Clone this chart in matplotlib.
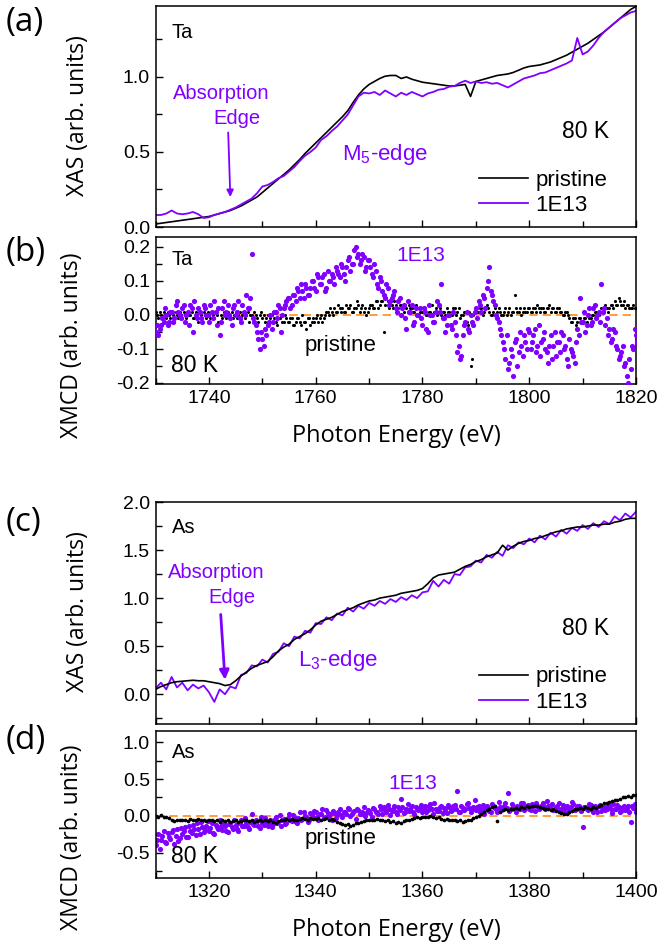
import numpy as np
import matplotlib
matplotlib.use("Agg")
import matplotlib.pyplot as plt
from matplotlib.ticker import MultipleLocator
from matplotlib.lines import Line2D

plt.rcParams['font.family'] = ['Liberation Sans', 'DejaVu Sans']
plt.rcParams['mathtext.fontset'] = 'custom'
plt.rcParams['mathtext.rm'] = 'Liberation Sans'
plt.rcParams['mathtext.default'] = 'regular'

# === Daten ===
# Ta M5-Kante, XAS, 1 eV Schritte 1730..1820
e_ta = np.arange(1730, 1821, 1.0)
xas_ta_pristine = [
    0.02, 0.025, 0.03, 0.035, 0.04, 0.045, 0.05, 0.055, 0.06, 0.065,
    0.07, 0.08, 0.09, 0.10, 0.11, 0.125, 0.14, 0.16, 0.18, 0.20,
    0.23, 0.26, 0.29, 0.32, 0.35, 0.38, 0.415, 0.45, 0.49, 0.525,
    0.56, 0.595, 0.63, 0.665, 0.70, 0.735, 0.775, 0.83, 0.88, 0.92,
    0.95, 0.97, 0.99, 1.005, 1.01, 1.01, 0.99, 1.0, 0.985, 0.975,
    0.965, 0.96, 0.955, 0.95, 0.945, 0.94, 0.94, 0.945, 0.95, 0.87,
    0.97, 0.98, 0.99, 1.0, 1.01, 1.015, 1.02, 1.03, 1.045, 1.06,
    1.07, 1.075, 1.08, 1.09, 1.10, 1.115, 1.13, 1.145, 1.165, 1.185,
    1.205, 1.225, 1.25, 1.275, 1.30, 1.33, 1.36, 1.39, 1.42, 1.45,
    1.47]
xas_ta_1e13 = [
    0.08, 0.08, 0.09, 0.11, 0.09, 0.085, 0.09, 0.10, 0.085, 0.06,
    0.065, 0.08, 0.09, 0.10, 0.115, 0.13, 0.15, 0.17, 0.19, 0.225,
    0.27, 0.28, 0.30, 0.325, 0.34, 0.37, 0.40, 0.44, 0.475, 0.50,
    0.53, 0.58, 0.605, 0.64, 0.67, 0.71, 0.75, 0.81, 0.87, 0.895,
    0.89, 0.90, 0.88, 0.91, 0.89, 0.87, 0.895, 0.88, 0.90, 0.885,
    0.87, 0.89, 0.90, 0.915, 0.92, 0.935, 0.94, 0.96, 0.975, 0.96,
    0.97, 0.96, 0.965, 0.955, 0.96, 0.945, 0.93, 0.95, 0.97, 0.99,
    1.00, 1.01, 1.025, 1.03, 1.045, 1.06, 1.075, 1.09, 1.11, 1.26,
    1.15, 1.17, 1.21, 1.26, 1.30, 1.33, 1.36, 1.39, 1.41, 1.43,
    1.44]

# Ta XMCD, zwei verschachtelte Punktreihen im 0.5 eV Raster
e_ta_f = np.arange(1730, 1820.25, 0.5)
e_ta_f2 = e_ta_f + 0.25
xmcd_ta_pristine = [
    0.01, -0.01, 0.00, 0.01, -0.01, 0.00, 0.01, -0.02, 0.00, 0.01,
    -0.01, 0.00, 0.01, 0.00, -0.01, 0.01, -0.02, 0.00, 0.01, -0.01,
    0.00, 0.01, -0.01, 0.00, 0.02, -0.01, 0.00, 0.01, 0.00, -0.01,
    0.01, 0.00, -0.01, 0.01, 0.00, -0.02, 0.00, 0.01, -0.01, 0.00,
    -0.01, -0.02, 0.00, -0.01, 0.01, -0.02, -0.01, 0.00, -0.02, -0.01,
    -0.02, -0.01, -0.03, -0.01, -0.02, 0.00, -0.02, -0.01, -0.03, -0.01,
    -0.01, -0.02, 0.00, -0.01, 0.01, 0.00, 0.01, 0.02, 0.01, 0.02,
    0.02, 0.01, 0.02, 0.03, 0.01, 0.02, 0.03, 0.02, 0.01, 0.00,
    0.02, 0.03, 0.02, 0.04, 0.03, 0.04, 0.03, 0.04, 0.03, 0.02,
    0.03, 0.02, 0.03, 0.01, 0.02, 0.03, 0.02, 0.01, 0.02, 0.01,
    0.01, 0.02, 0.00, 0.01, -0.02, 0.02, 0.01, 0.00, 0.01, 0.02,
    0.01, 0.00, 0.02, 0.01, -0.01, 0.00, 0.01, -0.03, -0.15, 0.00,
    0.02, 0.01, 0.02, 0.01, 0.03, 0.01, 0.00, 0.02, 0.01, 0.01,
    0.00, 0.02, 0.01, 0.00, 0.01, 0.02, 0.01, 0.00, 0.02, 0.01,
    0.02, 0.01, 0.02, 0.03, 0.01, 0.02, 0.01, 0.02, 0.01, 0.02,
    0.01, 0.02, 0.01, 0.00, 0.01, -0.01, -0.02, -0.01, -0.02, -0.01,
    -0.02, -0.01, 0.00, -0.01, 0.00, 0.01, 0.00, 0.02, 0.01, 0.02,
    0.02, 0.03, 0.04, 0.03, 0.04, 0.03, 0.02, 0.03, 0.02, 0.03,
    0.02]
xmcd_ta_pristine_2 = [
    0.00, 0.01, -0.01, 0.00, 0.01, -0.01, 0.00, 0.01, -0.01, 0.00,
    0.01, -0.01, 0.00, 0.01, -0.01, 0.00, 0.01, -0.01, 0.00, 0.01,
    -0.01, 0.00, 0.01, -0.02, 0.00, 0.01, -0.01, 0.00, 0.01, 0.00,
    -0.01, 0.01, 0.00, -0.01, 0.01, 0.00, -0.01, 0.00, -0.02, 0.01,
    0.00, -0.01, -0.02, 0.00, -0.01, -0.03, -0.01, -0.02, 0.00, -0.02,
    -0.01, -0.03, -0.02, -0.01, -0.03, -0.02, -0.04, -0.01, -0.02, -0.02,
    0.00, -0.01, -0.02, 0.00, 0.01, 0.02, 0.00, 0.01, 0.03, 0.01,
    0.01, 0.03, 0.02, 0.01, 0.02, 0.04, 0.01, 0.03, 0.02, 0.01,
    0.03, 0.02, 0.04, 0.02, 0.04, -0.05, 0.05, 0.02, 0.03, 0.04,
    0.02, 0.03, 0.02, 0.03, 0.01, 0.02, 0.01, 0.03, 0.00, 0.02,
    0.02, 0.00, 0.01, 0.03, 0.01, 0.00, 0.02, 0.01, 0.00, 0.01,
    0.00, 0.02, 0.00, 0.02, 0.00, 0.01, -0.02, 0.01, -0.13, 0.01,
    0.01, 0.02, 0.00, 0.02, 0.02, 0.00, 0.01, 0.00, 0.02, 0.00,
    0.01, 0.00, 0.02, 0.01, 0.06, 0.01, 0.02, 0.01, 0.01, 0.02,
    0.01, 0.02, 0.01, 0.02, 0.02, 0.01, 0.02, 0.03, 0.02, 0.01,
    0.02, 0.01, 0.00, 0.01, 0.00, -0.02, -0.01, -0.03, -0.01, -0.02,
    -0.01, -0.02, -0.01, 0.00, 0.01, -0.01, 0.01, 0.01, 0.03, 0.01,
    0.03, 0.02, 0.03, 0.05, 0.03, 0.04, 0.03, 0.02, 0.02, 0.02,
    0.02]
xmcd_ta_1e13 = [
    -0.05, -0.06, -0.03, -0.02, 0.00, -0.02, 0.01, -0.01, 0.04, 0.00,
    0.02, -0.02, 0.01, 0.03, -0.05, 0.00, 0.02, -0.01, 0.03, 0.00,
    -0.02, 0.01, 0.04, -0.03, -0.06, 0.02, 0.00, 0.03, -0.01, 0.02,
    0.00, 0.04, -0.02, 0.01, 0.06, 0.02, 0.18, -0.02, -0.05, -0.10,
    -0.07, -0.04, -0.03, 0.00, -0.02, 0.01, 0.03, -0.05, 0.02, 0.04,
    0.05, 0.03, 0.06, 0.08, 0.05, 0.07, 0.09, 0.06, 0.08, 0.10,
    0.07, 0.11, 0.09, 0.12, 0.08, 0.10, 0.12, 0.09, 0.13, 0.11,
    0.14, 0.10, 0.16, 0.13, 0.15, 0.20, 0.18, 0.16, 0.17, 0.14,
    0.16, 0.12, 0.15, 0.09, 0.11, 0.07, 0.05, 0.08, 0.04, 0.06,
    0.02, 0.04, 0.00, 0.03, -0.04, 0.01, 0.03, -0.02, 0.00, 0.02,
    -0.03, 0.01, -0.05, 0.00, -0.02, 0.01, 0.03, 0.09, -0.01, -0.03,
    0.00, -0.04, -0.02, -0.11, -0.13, -0.06, -0.02, -0.04, 0.00, -0.03,
    0.02, 0.04, 0.01, 0.05, 0.08, 0.14, 0.06, 0.03, -0.01, -0.04,
    -0.08, -0.13, -0.16, -0.10, -0.18, -0.07, -0.11, -0.09, -0.06, -0.10,
    -0.05, -0.08, -0.04, -0.09, -0.12, -0.07, -0.10, -0.14, -0.06, -0.09,
    -0.12, -0.08, -0.05, -0.10, -0.13, -0.07, -0.11, -0.14, -0.04, 0.05,
    -0.02, -0.05, 0.00, -0.03, 0.02, -0.01, 0.01, 0.09, 0.02, -0.01,
    -0.04, -0.07, -0.05, -0.10, -0.12, -0.09, -0.14, -0.20, -0.16, -0.10,
    -0.06]
xmcd_ta_1e13_2 = [
    -0.03, -0.04, -0.01, 0.02, -0.03, 0.01, -0.02, 0.03, 0.01, -0.01,
    0.03, 0.00, -0.03, 0.02, 0.04, -0.01, 0.01, -0.02, 0.02, 0.00,
    0.03, -0.01, 0.01, 0.02, -0.02, 0.04, 0.01, 0.00, -0.03, 0.03,
    0.01, -0.01, 0.03, 0.00, 0.02, 0.05, -0.01, -0.03, -0.07, -0.05,
    -0.09, -0.06, -0.02, -0.04, 0.01, -0.01, 0.02, 0.00, 0.03, 0.05,
    0.02, 0.06, 0.04, 0.07, 0.09, 0.05, 0.08, 0.06, 0.10, 0.08,
    0.12, 0.09, 0.11, 0.07, 0.13, 0.10, 0.11, 0.14, 0.12, 0.15,
    0.12, 0.14, 0.17, 0.15, 0.19, 0.17, 0.15, 0.18, 0.13, 0.16,
    0.14, 0.11, 0.13, 0.08, 0.10, 0.06, 0.09, 0.03, 0.05, 0.07,
    0.01, 0.05, 0.02, -0.01, 0.04, 0.01, -0.03, 0.02, 0.00, -0.01,
    0.02, -0.04, 0.03, 0.00, -0.02, 0.04, 0.01, -0.01, -0.05, 0.00,
    -0.03, 0.01, -0.06, -0.09, -0.12, -0.03, 0.01, -0.05, -0.02, 0.01,
    -0.01, 0.03, 0.06, 0.02, 0.10, 0.07, 0.04, 0.00, -0.02, -0.06,
    -0.10, -0.06, -0.14, -0.12, -0.08, -0.15, -0.05, -0.12, -0.08, -0.04,
    -0.10, -0.06, -0.11, -0.03, -0.08, -0.05, -0.11, -0.09, -0.13, -0.05,
    -0.08, -0.11, -0.06, -0.09, -0.15, -0.10, -0.12, -0.08, -0.06, -0.02,
    0.01, -0.03, 0.02, -0.02, 0.03, 0.00, -0.02, 0.01, -0.03, -0.06,
    -0.08, -0.04, -0.09, -0.13, -0.11, -0.15, -0.18, -0.13, -0.09, -0.04,
    -0.08]

# As L3-Kante, XAS, 1 eV Schritte 1310..1400
e_as = np.arange(1310, 1401, 1.0)
xas_as_pristine = [
    0.05, 0.08, 0.10, 0.12, 0.13, 0.135, 0.14, 0.145, 0.14, 0.14,
    0.13, 0.12, 0.11, 0.09, 0.10, 0.14, 0.19, 0.23, 0.27, 0.30,
    0.32, 0.34, 0.39, 0.45, 0.49, 0.52, 0.57, 0.60, 0.63, 0.67,
    0.72, 0.76, 0.78, 0.80, 0.83, 0.86, 0.88, 0.90, 0.93, 0.95,
    0.97, 0.98, 1.00, 1.01, 1.02, 1.03, 1.05, 1.06, 1.07, 1.08,
    1.10, 1.15, 1.21, 1.24, 1.25, 1.26, 1.27, 1.30, 1.33, 1.35,
    1.38, 1.40, 1.43, 1.45, 1.47, 1.55, 1.50, 1.54, 1.57, 1.59,
    1.60, 1.62, 1.63, 1.65, 1.67, 1.69, 1.70, 1.72, 1.73, 1.74,
    1.74, 1.75, 1.76, 1.76, 1.77, 1.77, 1.79, 1.80, 1.82, 1.83,
    1.83]
xas_as_1e13 = [
    0.06, 0.12, 0.05, 0.18, 0.07, 0.12, 0.04, 0.10, 0.06, 0.09,
    0.02, -0.08, 0.05, 0.00, 0.08, 0.06, 0.20, 0.22, 0.30, 0.29,
    0.36, 0.33, 0.42, 0.44, 0.53, 0.50, 0.60, 0.58, 0.66, 0.64,
    0.74, 0.73, 0.80, 0.77, 0.84, 0.82, 0.90, 0.86, 0.92, 0.89,
    0.95, 0.92, 0.97, 0.94, 0.99, 0.96, 1.01, 0.98, 1.03, 1.00,
    1.06, 1.07, 1.18, 1.12, 1.19, 1.15, 1.25, 1.24, 1.32, 1.33,
    1.39, 1.37, 1.45, 1.42, 1.48, 1.44, 1.55, 1.52, 1.58, 1.56,
    1.62, 1.58, 1.65, 1.61, 1.68, 1.64, 1.71, 1.67, 1.73, 1.70,
    1.76, 1.72, 1.78, 1.74, 1.80, 1.77, 1.85, 1.81, 1.88, 1.84,
    1.90]

# As XMCD, 0.5 eV Raster
e_as_f = np.arange(1310, 1400.25, 0.5)
e_as_f2 = e_as_f + 0.25
xmcd_as_pristine = [
    0.00, -0.01, 0.01, -0.02, -0.01, -0.03, -0.05, -0.07, -0.06, -0.05,
    -0.06, -0.05, -0.07, -0.04, -0.06, -0.05, -0.04, -0.06, -0.05, -0.07,
    -0.06, -0.05, -0.07, -0.06, -0.08, -0.06, -0.07, -0.05, -0.08, -0.07,
    -0.06, -0.08, -0.07, -0.06, -0.05, -0.07, -0.06, -0.08, -0.07, -0.06,
    -0.07, -0.05, -0.07, -0.06, -0.08, -0.10, -0.07, -0.06, -0.05, -0.04,
    -0.05, -0.04, -0.06, -0.05, -0.04, -0.03, -0.04, -0.05, -0.03, -0.04,
    -0.04, -0.03, -0.05, -0.04, -0.03, -0.05, -0.04, -0.06, -0.08, -0.10,
    -0.11, -0.12, -0.11, -0.13, -0.12, -0.10, -0.09, -0.08, -0.07, -0.06,
    -0.05, -0.06, -0.05, -0.04, -0.06, -0.05, -0.07, -0.06, -0.08, -0.07,
    -0.09, -0.08, -0.10, -0.07, -0.06, -0.05, -0.04, -0.03, -0.02, -0.03,
    -0.02, -0.01, -0.02, 0.00, -0.01, -0.03, -0.02, -0.04, -0.05, -0.04,
    -0.05, -0.06, -0.05, -0.07, -0.06, -0.08, -0.07, -0.06, -0.05, -0.03,
    -0.02, 0.00, 0.02, 0.05, 0.08, 0.10, 0.12, 0.13, -0.07, 0.06,
    0.08, 0.09, 0.08, 0.10, 0.09, 0.11, 0.10, 0.12, 0.11, 0.13,
    0.12, 0.13, 0.14, 0.13, 0.12, 0.11, 0.10, 0.09, 0.08, 0.09,
    0.07, 0.05, 0.04, 0.02, 0.03, 0.05, 0.07, 0.09, 0.10, 0.11,
    0.10, 0.12, 0.11, 0.10, 0.12, 0.11, 0.13, 0.15, 0.17, 0.18,
    0.19, 0.20, 0.21, 0.22, 0.23, 0.25, 0.26, 0.27, 0.26, 0.28,
    0.29]
xmcd_as_1e13 = [
    -0.40, -0.25, -0.33, -0.20, -0.36, -0.28, -0.22, -0.38, -0.18, -0.30,
    -0.24, -0.15, -0.29, -0.20, -0.12, -0.26, -0.18, -0.08, -0.22, -0.14,
    -0.20, -0.10, -0.25, -0.15, -0.06, -0.19, -0.13, -0.22, -0.09, -0.17,
    -0.12, -0.20, -0.05, -0.14, -0.10, -0.18, 0.02, -0.12, -0.07, -0.16,
    -0.09, -0.03, -0.14, -0.06, -0.11, -0.01, -0.08, -0.13, -0.04, -0.09,
    0.03, -0.07, -0.02, -0.10, 0.06, -0.04, 0.00, -0.08, 0.04, -0.02,
    0.05, -0.05, 0.02, -0.03, 0.08, 0.00, -0.06, 0.04, 0.01, 0.09,
    -0.02, 0.05, 0.11, 0.00, 0.06, -0.04, 0.08, 0.02, 0.12, 0.04,
    0.07, -0.01, 0.10, 0.05, 0.13, 0.03, 0.08, 0.15, 0.01, 0.09,
    0.06, 0.12, 0.23, 0.04, 0.10, 0.07, 0.14, 0.02, 0.09, 0.11,
    0.05, 0.13, 0.08, 0.16, 0.03, 0.10, 0.07, 0.14, 0.11, 0.04,
    0.12, 0.08, 0.15, 0.34, 0.06, 0.11, 0.09, 0.17, 0.05, 0.12,
    0.08, 0.14, 0.10, 0.03, 0.13, 0.07, 0.16, 0.11, 0.06, 0.12,
    0.09, 0.18, 0.31, 0.10, 0.14, 0.06, 0.12, 0.17, 0.08, 0.13,
    0.10, 0.16, 0.07, 0.14, 0.11, 0.18, 0.09, 0.13, 0.15, 0.08,
    0.12, 0.17, 0.10, 0.06, 0.14, 0.11, 0.19, 0.08, 0.13, 0.10,
    -0.15, 0.12, 0.08, 0.15, 0.05, 0.11, 0.14, 0.07, 0.12, 0.09,
    0.13, 0.04, 0.10, 0.15, 0.06, 0.12, 0.08, 0.14, -0.08, 0.11,
    0.05]
xmcd_as_1e13_2 = [
    -0.32, -0.45, -0.27, -0.35, -0.23, -0.31, -0.19, -0.27, -0.34, -0.16,
    -0.21, -0.28, -0.13, -0.23, -0.17, -0.10, -0.24, -0.15, -0.19, -0.07,
    -0.16, -0.23, -0.12, -0.18, -0.14, -0.09, -0.21, -0.11, -0.15, -0.05,
    -0.17, -0.09, -0.13, -0.03, -0.15, -0.08, -0.11, -0.06, -0.14, -0.02,
    -0.12, -0.07, -0.10, -0.15, -0.05, -0.09, 0.01, -0.06, -0.11, -0.03,
    -0.05, 0.01, -0.08, -0.03, -0.06, 0.05, -0.01, -0.05, 0.02, 0.07,
    -0.02, 0.03, 0.10, -0.01, 0.04, 0.02, 0.07, -0.03, 0.05, 0.01,
    0.06, 0.03, 0.09, 0.02, 0.07, 0.10, 0.03, 0.06, 0.00, 0.08,
    0.04, 0.11, 0.06, 0.02, 0.09, 0.12, 0.05, 0.10, 0.07, 0.14,
    0.03, 0.08, 0.12, 0.06, 0.16, 0.09, 0.05, 0.12, 0.08, 0.15,
    0.10, 0.06, 0.13, 0.09, 0.18, 0.07, 0.12, 0.04, 0.10, 0.15,
    0.07, 0.13, 0.10, 0.05, 0.14, 0.08, 0.16, 0.11, 0.09, 0.22,
    0.12, 0.06, 0.15, 0.09, 0.11, 0.05, 0.13, 0.10, 0.19, 0.08,
    0.14, 0.11, 0.07, 0.16, 0.10, 0.13, 0.09, 0.18, 0.12, 0.15,
    0.08, 0.13, 0.17, 0.10, 0.14, 0.12, 0.20, 0.11, 0.16, 0.09,
    0.13, 0.08, 0.15, 0.11, 0.06, 0.12, 0.16, 0.10, 0.14, 0.07,
    0.12, 0.09, 0.16, 0.10, 0.13, 0.06, 0.15, 0.11, 0.08, 0.13,
    0.10, 0.16, 0.09, 0.12, 0.07, 0.14, 0.11, 0.05, 0.13, 0.16,
    0.10]

violett = "#8000ff"
orange = "#ff8c1a"
fs = 14

W, H = 660, 947
fig = plt.figure(figsize=(W / 100, H / 100), dpi=100)

def achse(left, top, right, bottom):
    return fig.add_axes([left / W, 1 - bottom / H, (right - left) / W, (bottom - top) / H])

ax_a = achse(155.6, 6, 636, 227)
ax_b = achse(155.6, 237, 636, 384)
ax_c = achse(155.6, 502, 636, 724)
ax_d = achse(155.6, 731, 636, 878)

for ax in (ax_a, ax_b, ax_c, ax_d):
    for sp in ax.spines.values():
        sp.set_linewidth(1.1)
    ax.tick_params(which='both', direction='in', top=False, right=False,
                   labelsize=fs, width=1.0, pad=4)
    ax.tick_params(which='major', length=5)
    ax.tick_params(which='minor', length=4)
    ax.xaxis.set_major_locator(MultipleLocator(20))
    ax.xaxis.set_minor_locator(MultipleLocator(10))

# --- (a) Ta XAS ---
ax_a.plot(e_ta, xas_ta_pristine, color='black', lw=1.2)
ax_a.plot(e_ta, xas_ta_1e13, color=violett, lw=1.3)
ax_a.set_xlim(1730, 1820)
ax_a.set_ylim(0, 1.473)
ax_a.yaxis.set_major_locator(MultipleLocator(0.5))
ax_a.yaxis.set_minor_locator(MultipleLocator(0.25))
ax_a.tick_params(labelbottom=False)

# --- (b) Ta XMCD ---
ax_b.axhline(0, color=orange, lw=1.2, ls=(0, (5, 3)), zorder=1)
ax_b.scatter(e_ta_f, xmcd_ta_pristine, s=5, color='black', lw=0, zorder=2)
ax_b.scatter(e_ta_f2, xmcd_ta_pristine_2, s=5, color='black', lw=0, zorder=2)
ax_b.scatter(e_ta_f, xmcd_ta_1e13, s=14, color=violett, lw=0, zorder=3)
ax_b.scatter(e_ta_f2, xmcd_ta_1e13_2, s=14, color=violett, lw=0, zorder=3)
ax_b.set_xlim(1730, 1820)
ax_b.set_ylim(-0.203, 0.229)
ax_b.yaxis.set_major_locator(MultipleLocator(0.1))
ax_b.yaxis.set_minor_locator(MultipleLocator(0.05))

# --- (c) As XAS ---
ax_c.plot(e_as, xas_as_1e13, color=violett, lw=1.3)
ax_c.plot(e_as, xas_as_pristine, color='black', lw=1.2)
ax_c.set_xlim(1310, 1400)
ax_c.set_ylim(-0.31, 2.0)
ax_c.yaxis.set_major_locator(MultipleLocator(0.5))
ax_c.yaxis.set_minor_locator(MultipleLocator(0.25))
ax_c.tick_params(labelbottom=False)

# --- (d) As XMCD ---
ax_d.axhline(0, color=orange, lw=1.2, ls=(0, (5, 3)), zorder=1)
ax_d.scatter(e_as_f, xmcd_as_1e13, s=14, color=violett, lw=0, zorder=2)
ax_d.scatter(e_as_f2, xmcd_as_1e13_2, s=14, color=violett, lw=0, zorder=2)
ax_d.scatter(e_as_f, xmcd_as_pristine, s=7, color='black', lw=0, zorder=3)
ax_d.set_xlim(1310, 1400)
ax_d.set_ylim(-0.84, 1.15)
ax_d.yaxis.set_major_locator(MultipleLocator(0.5))
ax_d.yaxis.set_minor_locator(MultipleLocator(0.25))

def fmt(v, pos):
    return f"{v:.1f}"
for ax in (ax_a, ax_b, ax_c, ax_d):
    ax.yaxis.set_major_formatter(plt.FuncFormatter(fmt))

# --- Legenden ---
handles = [Line2D([], [], color='black', lw=1.2), Line2D([], [], color=violett, lw=1.3)]
for ax in (ax_a, ax_c):
    ax.legend(handles, ['pristine', '1E13'], loc='lower right', frameon=False,
              fontsize=16, handlelength=2.2, handletextpad=0.35, labelspacing=0.2,
              borderaxespad=0, borderpad=0, bbox_to_anchor=(0.94, 0.05))

# --- Texte ---
def txt(ax, x, y, s, **kw):
    kw.setdefault('fontsize', 16)
    kw.setdefault('va', 'center')
    kw.setdefault('ha', 'left')
    ax.text(x, y, s, transform=ax.transAxes, **kw)

txt(ax_a, 0.034, 0.882, "Ta", fontsize=14.5)
txt(ax_a, 0.1376, 0.602, "Absorption", color=violett, ha='center', fontsize=14.5)
txt(ax_a, 0.1688, 0.493, "Edge", color=violett, ha='center', fontsize=14.5)
txt(ax_a, 0.387, 0.326, "M$_5$-edge", color=violett)
txt(ax_a, 0.845, 0.43, "80 K", fontsize=16.5)
ax_a.annotate("", xy=(1744.0, 0.2), xytext=(1743.6, 0.63),
              arrowprops=dict(arrowstyle='-|>', color=violett, lw=1.3,
                              mutation_scale=10, shrinkA=0, shrinkB=0))

txt(ax_b, 0.034, 0.848, "Ta", fontsize=14.5)
txt(ax_b, 0.502, 0.871, "1E13", color=violett, fontsize=15)
txt(ax_b, 0.311, 0.265, "pristine")
txt(ax_b, 0.032, 0.129, "80 K", fontsize=16.5)

txt(ax_c, 0.034, 0.883, "As", fontsize=14.5)
txt(ax_c, 0.127, 0.682, "Absorption", color=violett, ha='center', fontsize=14.5)
txt(ax_c, 0.158, 0.569, "Edge", color=violett, ha='center', fontsize=14.5)
txt(ax_c, 0.296, 0.284, "L$_3$-edge", color=violett)
txt(ax_c, 0.846, 0.428, "80 K", fontsize=16.5)
ax_c.annotate("", xy=(1323.0, 0.15), xytext=(1322.2, 0.83),
              arrowprops=dict(arrowstyle='-|>', color=violett, lw=2.0,
                              mutation_scale=14, shrinkA=0, shrinkB=0))

txt(ax_d, 0.034, 0.857, "As", fontsize=14.5)
txt(ax_d, 0.484, 0.646, "1E13", color=violett, fontsize=15)
txt(ax_d, 0.311, 0.272, "pristine")
txt(ax_d, 0.032, 0.143, "80 K", fontsize=16.5)

# --- Achsenbeschriftungen (Open Sans wie im Original) ---
ylab = dict(family=['Open Sans', 'DejaVu Sans'], fontsize=16.5, ha='center', va='center',
            rotation=90)
fig.text(78 / W, 1 - 116 / H, "XAS (arb. units)", **ylab)
fig.text(72 / W, 1 - 345 / H, "XMCD (arb. units)", **ylab)
fig.text(78 / W, 1 - 612 / H, "XAS (arb. units)", **ylab)
fig.text(72 / W, 1 - 837 / H, "XMCD (arb. units)", **ylab)
xlab = dict(family=['Open Sans', 'DejaVu Sans'], fontsize=17, ha='center', va='center')
fig.text(396 / W, 1 - 436 / H, "Photon Energy (eV)", **xlab)
fig.text(396 / W, 1 - 930 / H, "Photon Energy (eV)", **xlab)

pl = dict(family=['Open Sans', 'DejaVu Sans'], fontsize=24, ha='left', va='center')
fig.text(6 / W, 1 - 22 / H, "(a)", **pl)
fig.text(6 / W, 1 - 253 / H, "(b)", **pl)
fig.text(6 / W, 1 - 522 / H, "(c)", **pl)
fig.text(6 / W, 1 - 740 / H, "(d)", **pl)

fig.savefig("out.png", dpi=100)
